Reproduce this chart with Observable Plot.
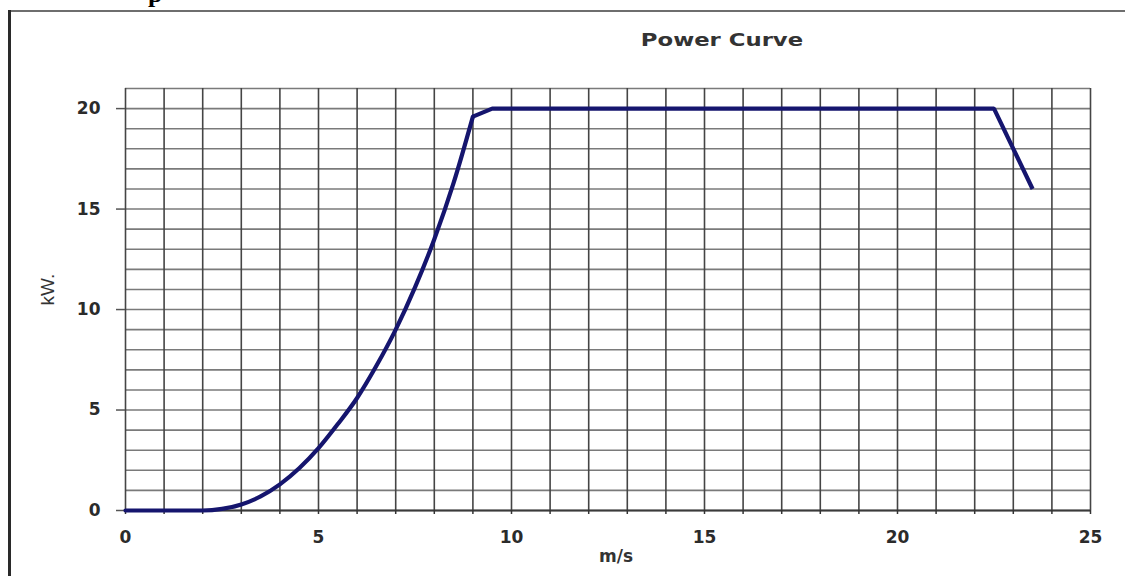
<!DOCTYPE html>
<html>
<head>
<meta charset="utf-8">
<script src="https://cdn.jsdelivr.net/npm/d3@7"></script>
<script src="https://cdn.jsdelivr.net/npm/@observablehq/plot@0.6"></script>
<style>
  body { margin: 0; background: #fff; }
  #wrap { position: relative; width: 1125px; height: 576px; overflow: hidden; background: #fff; }
  #chart { position: absolute; left: 0; top: 0; }
  #frameTop { position: absolute; left: 9px; top: 10px; width: 1120px; height: 0; border-top: 2px solid #6e6e6e; }
  #frameLeft { position: absolute; left: 8px; top: 10px; width: 0; height: 580px; border-left: 3px solid #2a2a2a; }
  #title { position: absolute; left: 722px; top: 40px; transform: translate(-50%, -50%) scaleX(1.3);
           font-family: "DejaVu Sans", sans-serif; font-weight: bold; font-size: 17.5px; color: #333; white-space: nowrap; }
  #frag { position: absolute; left: 148px; top: -21px; font-family: "Liberation Serif", serif; font-weight: bold; font-size: 26px; color: #000; }
</style>
</head>
<body>
<div id="wrap">
  <div id="chart"></div>
  <div id="frag">p</div>
  <div id="frameTop"></div>
  <div id="frameLeft"></div>
  <div id="title">Power Curve</div>
</div>
<script>
// Wind speed (m/s) and power output (kW)
const windSpeed = [0, 1, 2, 2.5, 3, 3.5, 4, 4.5, 5, 5.5, 6, 6.5, 7, 7.5, 8, 8.5, 9, 9.5, 22.5, 23.5];
const power     = [0, 0, 0, 0.08, 0.3, 0.7, 1.3, 2.1, 3.1, 4.3, 5.6, 7.2, 9.0, 11.1, 13.5, 16.3, 19.6, 20, 20, 16];

const xTickLabels = [0, 5, 10, 15, 20, 25];
const yTickLabels = [0, 5, 10, 15, 20];
const xGrid = d3.range(0, 26);
const yGrid = d3.range(0, 22);
const xLabel = "m/s";
const yLabel = "kW.";

const data = windSpeed.map((x, i) => ({x, y: power[i]}));
const rampPart = data.filter(d => d.x <= 9);
const flatPart = data.filter(d => d.x >= 9);

const lineColor = "#15156e";

const chart = Plot.plot({
  width: 1125,
  height: 576,
  marginLeft: 125,
  marginRight: 35,
  marginTop: 88,
  marginBottom: 66,
  style: {fontFamily: "DejaVu Sans, sans-serif", background: "transparent", overflow: "visible"},
  x: {domain: [0, 25]},
  y: {domain: [0, 21]},
  marks: [
    Plot.ruleY(yGrid, {y: d => d, x1: 0, x2: 25, stroke: "#7a7a7a", strokeWidth: 1.6}),
    Plot.ruleX(xGrid, {x: d => d, y1: 0, y2: 21, stroke: "#454545", strokeWidth: 1.6}),
    Plot.ruleY([0], {x1: 0, x2: 25, stroke: "#3a3a3a", strokeWidth: 1.8}),
    Plot.axisX({ticks: xGrid, tickSize: 4, tickFormat: () => "", stroke: "#333", strokeWidth: 1.5, label: null}),
    Plot.axisX({ticks: xTickLabels, tickSize: 0, tickPadding: 20, fontSize: 17, fontWeight: "bold",
                fill: "#2b2b2b", style: "letter-spacing:2px", label: null}),
    Plot.axisY({ticks: yTickLabels, tickSize: 9, tickPadding: 16, fontSize: 17, fontWeight: "bold",
                fill: "#2b2b2b", stroke: "#555", strokeWidth: 1.5, style: "letter-spacing:2px", label: null}),
    Plot.text([xLabel], {frameAnchor: "bottom", dx: 8, dy: 51, fontSize: 17, fontWeight: "bold",
                         fill: "#333", style: "letter-spacing:3px"}),
    Plot.text([yLabel], {frameAnchor: "left", dx: -78, dy: 6, rotate: -90, fontSize: 19,
                         fontFamily: "Liberation Sans, Arial, sans-serif", fill: "#333"}),
    Plot.line(rampPart, {x: "x", y: "y", curve: "monotone-x", stroke: lineColor, strokeWidth: 4.2, strokeLinecap: "round"}),
    Plot.line(flatPart, {x: "x", y: "y", stroke: lineColor, strokeWidth: 4.2, strokeLinejoin: "miter", strokeLinecap: "butt"})
  ]
});
document.getElementById("chart").appendChild(chart);
</script>
</body>
</html>
